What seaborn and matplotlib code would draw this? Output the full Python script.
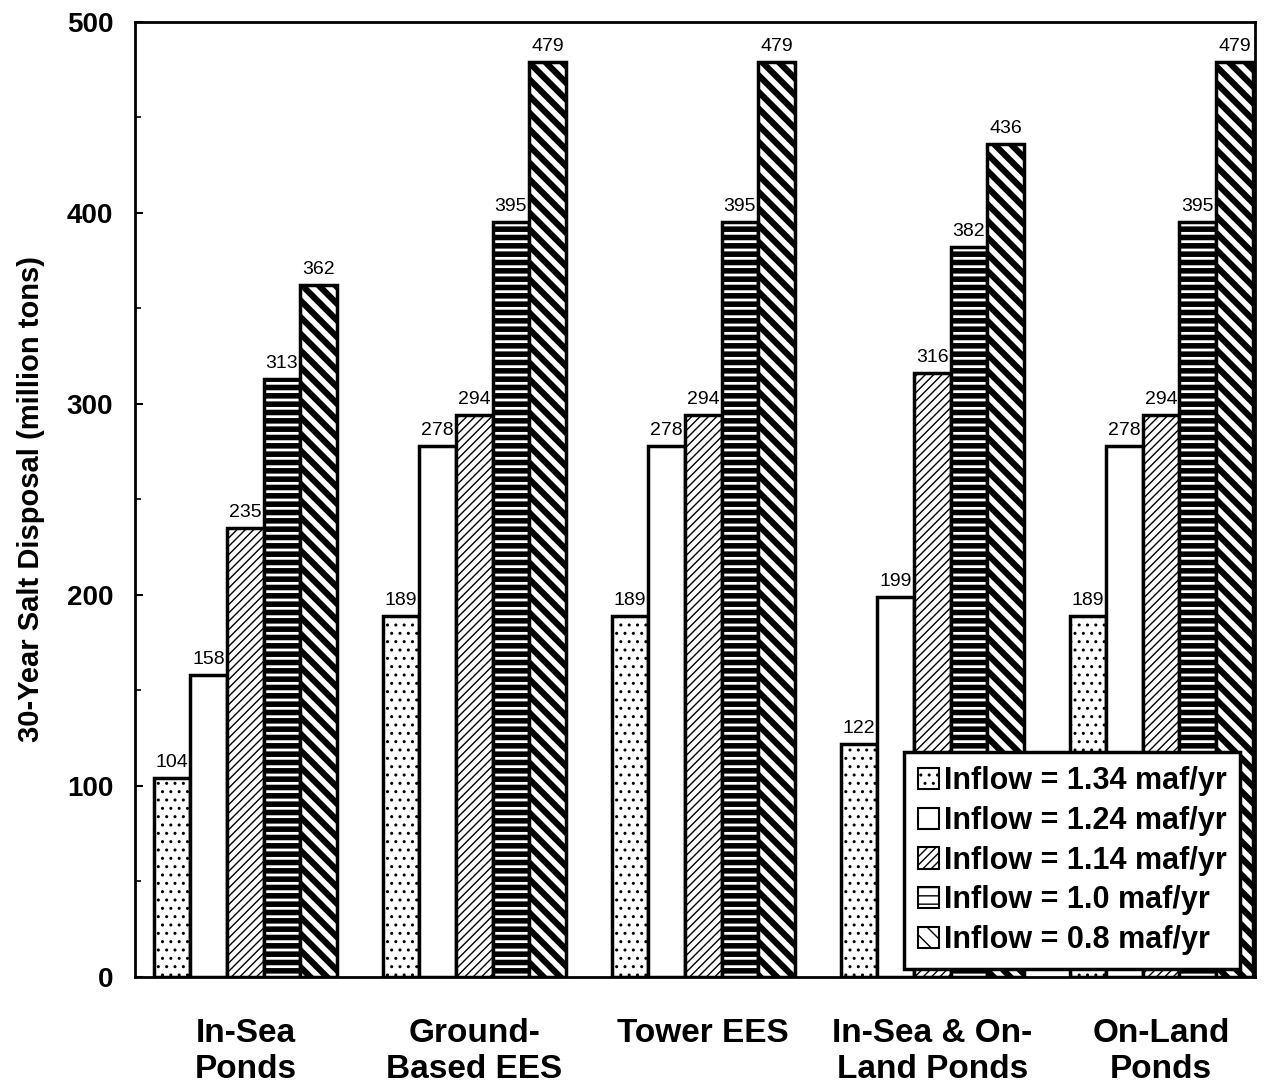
import numpy as np
import pandas as pd
import seaborn as sns
import matplotlib.pyplot as plt
from matplotlib.patches import Patch

# data
categories = ["In-Sea\nPonds", "Ground-\nBased EES", "Tower EES", "In-Sea & On-\nLand Ponds", "On-Land\nPonds"]
series = ["Inflow = 1.34 maf/yr", "Inflow = 1.24 maf/yr", "Inflow = 1.14 maf/yr",
          "Inflow = 1.0 maf/yr", "Inflow = 0.8 maf/yr"]
inflow_134 = [104, 189, 189, 122, 189]
inflow_124 = [158, 278, 278, 199, 278]
inflow_114 = [235, 294, 294, 316, 294]
inflow_100 = [313, 395, 395, 382, 395]
inflow_080 = [362, 479, 479, 436, 479]

hatches = ["..", "", "////", "--", "\\\\"]
hatch_lw = [1.0, 1.0, 1.0, 4.0, 4.5]

rows = []
for s, vals in zip(series, [inflow_134, inflow_124, inflow_114, inflow_100, inflow_080]):
    for c, v in zip(categories, vals):
        rows.append({"system": c, "inflow": s, "salt": v})
df = pd.DataFrame(rows)

sns.set_style("ticks")
plt.rcParams["font.family"] = ["Liberation Sans", "DejaVu Sans"]
plt.rcParams["font.weight"] = "bold"
plt.rcParams["hatch.color"] = "black"
plt.rcParams["text.color"] = "black"
plt.rcParams["axes.labelcolor"] = "black"
plt.rcParams["xtick.color"] = "black"
plt.rcParams["ytick.color"] = "black"
plt.rcParams["axes.edgecolor"] = "black"

fig = plt.figure(figsize=(12.78, 10.9), dpi=100)
ax = fig.add_axes([0.106, 0.104, 0.876, 0.876])

sns.barplot(data=df, x="system", y="salt", hue="inflow", order=categories, hue_order=series,
            color="white", saturation=1, edgecolor="black", linewidth=2.5, width=0.8,
            legend=False, ax=ax)

for i, cont in enumerate(ax.containers):
    for p in cont.patches:
        p.set_facecolor("white")
        p.set_hatch(hatches[i])
        if hasattr(p, "set_hatch_linewidth"):
            p.set_hatch_linewidth(hatch_lw[i])
    ax.bar_label(cont, fmt="%d", padding=5, fontsize=14, fontweight="normal", color="black")

ax.set_ylim(0, 500)
ax.set_yticks([0, 100, 200, 300, 400, 500])
ax.set_yticks(np.arange(50, 500, 100), minor=True)
ax.tick_params(axis="y", direction="in", length=6, width=1.5, labelsize=20, pad=16)
ax.tick_params(axis="y", which="minor", direction="in", length=4, width=1.2)
ax.tick_params(axis="x", length=0, labelsize=24, pad=30)
for lab in ax.get_xticklabels() + ax.get_yticklabels():
    lab.set_fontweight("bold")
ax.set_xlabel("")
ax.set_ylabel("30-Year Salt Disposal (million tons)", fontsize=21, fontweight="bold", labelpad=16)
for sp in ax.spines.values():
    sp.set_visible(True)
    sp.set_linewidth(2)
    sp.set_color("black")
ax.set_xlim(-0.48, 4.41)

handles = []
for i, s in enumerate(series):
    h = Patch(facecolor="white", edgecolor="black", hatch=hatches[i], linewidth=1.5, label=s)
    handles.append(h)
leg = ax.legend(handles=handles, loc="lower right", bbox_to_anchor=(0.987, 0.008),
                fontsize=22, frameon=True, fancybox=False, edgecolor="black",
                handlelength=0.7, handleheight=0.7, handletextpad=0.15,
                labelspacing=0.32, borderpad=0.45, borderaxespad=0, framealpha=1)
leg.get_frame().set_linewidth(2.5)
for t in leg.get_texts():
    t.set_fontweight("bold")

fig.savefig("out.png", dpi=100)
